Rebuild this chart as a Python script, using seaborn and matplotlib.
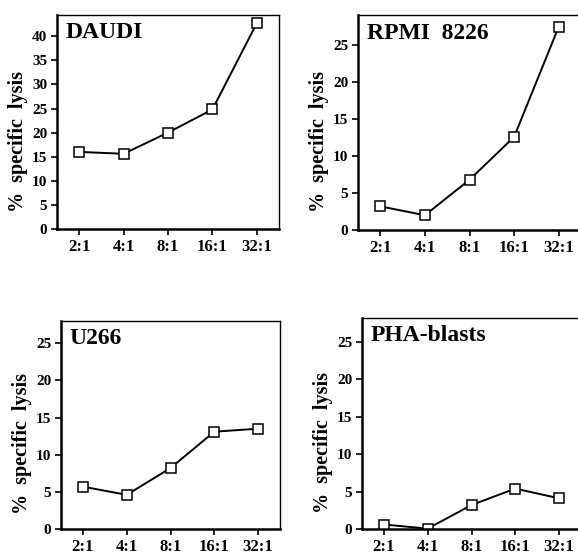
# Specific lysis vs E:T ratio, four target cell lines
import matplotlib
matplotlib.use('Agg')

import numpy as np
import matplotlib.pyplot as plt
import seaborn as sns


# E:T ratios on the x axis
ratios = ["2:1", "4:1", "8:1", "16:1", "32:1"]

# % specific lysis
daudi = [16.0, 15.6, 20.0, 24.8, 42.7]
rpmi = [3.2, 2.0, 6.8, 12.6, 27.5]
u266 = [5.7, 4.6, 8.2, 13.1, 13.5]
pha = [0.6, 0.05, 3.2, 5.4, 4.1]

names = ["DAUDI", "RPMI  8226", "U266", "PHA-blasts"]
series = [daudi, rpmi, u266, pha]
ymaxes = [44.4, 29.1, 28.0, 28.2]
ytick_sets = [np.arange(0, 45, 5), np.arange(0, 30, 5), np.arange(0, 30, 5), np.arange(0, 30, 5)]

# axes boxes in pixels: left, top, right, bottom
W, H = 578, 557
boxes = [(57, 15, 279, 229), (358, 15, 581, 230), (61, 321, 280, 529), (362, 318, 581, 529)]

sns.set_style("ticks")
plt.rcParams["font.family"] = ["Liberation Serif", "DejaVu Serif"]
plt.rcParams["font.weight"] = "bold"
for key in ["text.color", "axes.labelcolor", "xtick.color", "ytick.color", "axes.edgecolor"]:
    plt.rcParams[key] = "black"

fig = plt.figure(figsize=(W / 100, H / 100), dpi=100)
x = np.arange(len(ratios))

for name, vals, ymax, yt, (l, t, r, b) in zip(names, series, ymaxes, ytick_sets, boxes):
    ax = fig.add_axes([l / W, 1 - b / H, (r - l) / W, (b - t) / H])
    sns.lineplot(x=x, y=vals, ax=ax, color="black", lw=1.4, sort=False,
                 marker="s", markersize=6.5, markerfacecolor="white",
                 markeredgecolor="black", markeredgewidth=1.1)
    ax.set_xlim(-0.5, 4.5)
    ax.set_ylim(0, ymax)
    ax.set_xticks(x)
    ax.set_xticklabels(ratios, fontsize=12, fontweight="bold")
    ax.set_yticks(yt)
    ax.set_yticklabels([str(v) for v in yt], fontsize=11, fontweight="bold")
    ax.tick_params(direction="out", length=4, width=1.2, pad=3)
    ax.tick_params(axis="x", pad=3)
    ax.set_ylabel("%  specific  lysis", fontsize=14.5, fontweight="bold", va="center")
    ax.yaxis.set_label_coords(-39 / (r - l), 0.41)
    for side in ["left", "bottom"]:
        ax.spines[side].set_linewidth(1.8)
    for side in ["top", "right"]:
        ax.spines[side].set_visible(True)
        ax.spines[side].set_linewidth(1.0)
    ax.text(0.04, 0.965, name, transform=ax.transAxes, ha="left", va="top",
            fontsize=17, fontweight="bold")

plt.savefig("out.png", dpi=100)
